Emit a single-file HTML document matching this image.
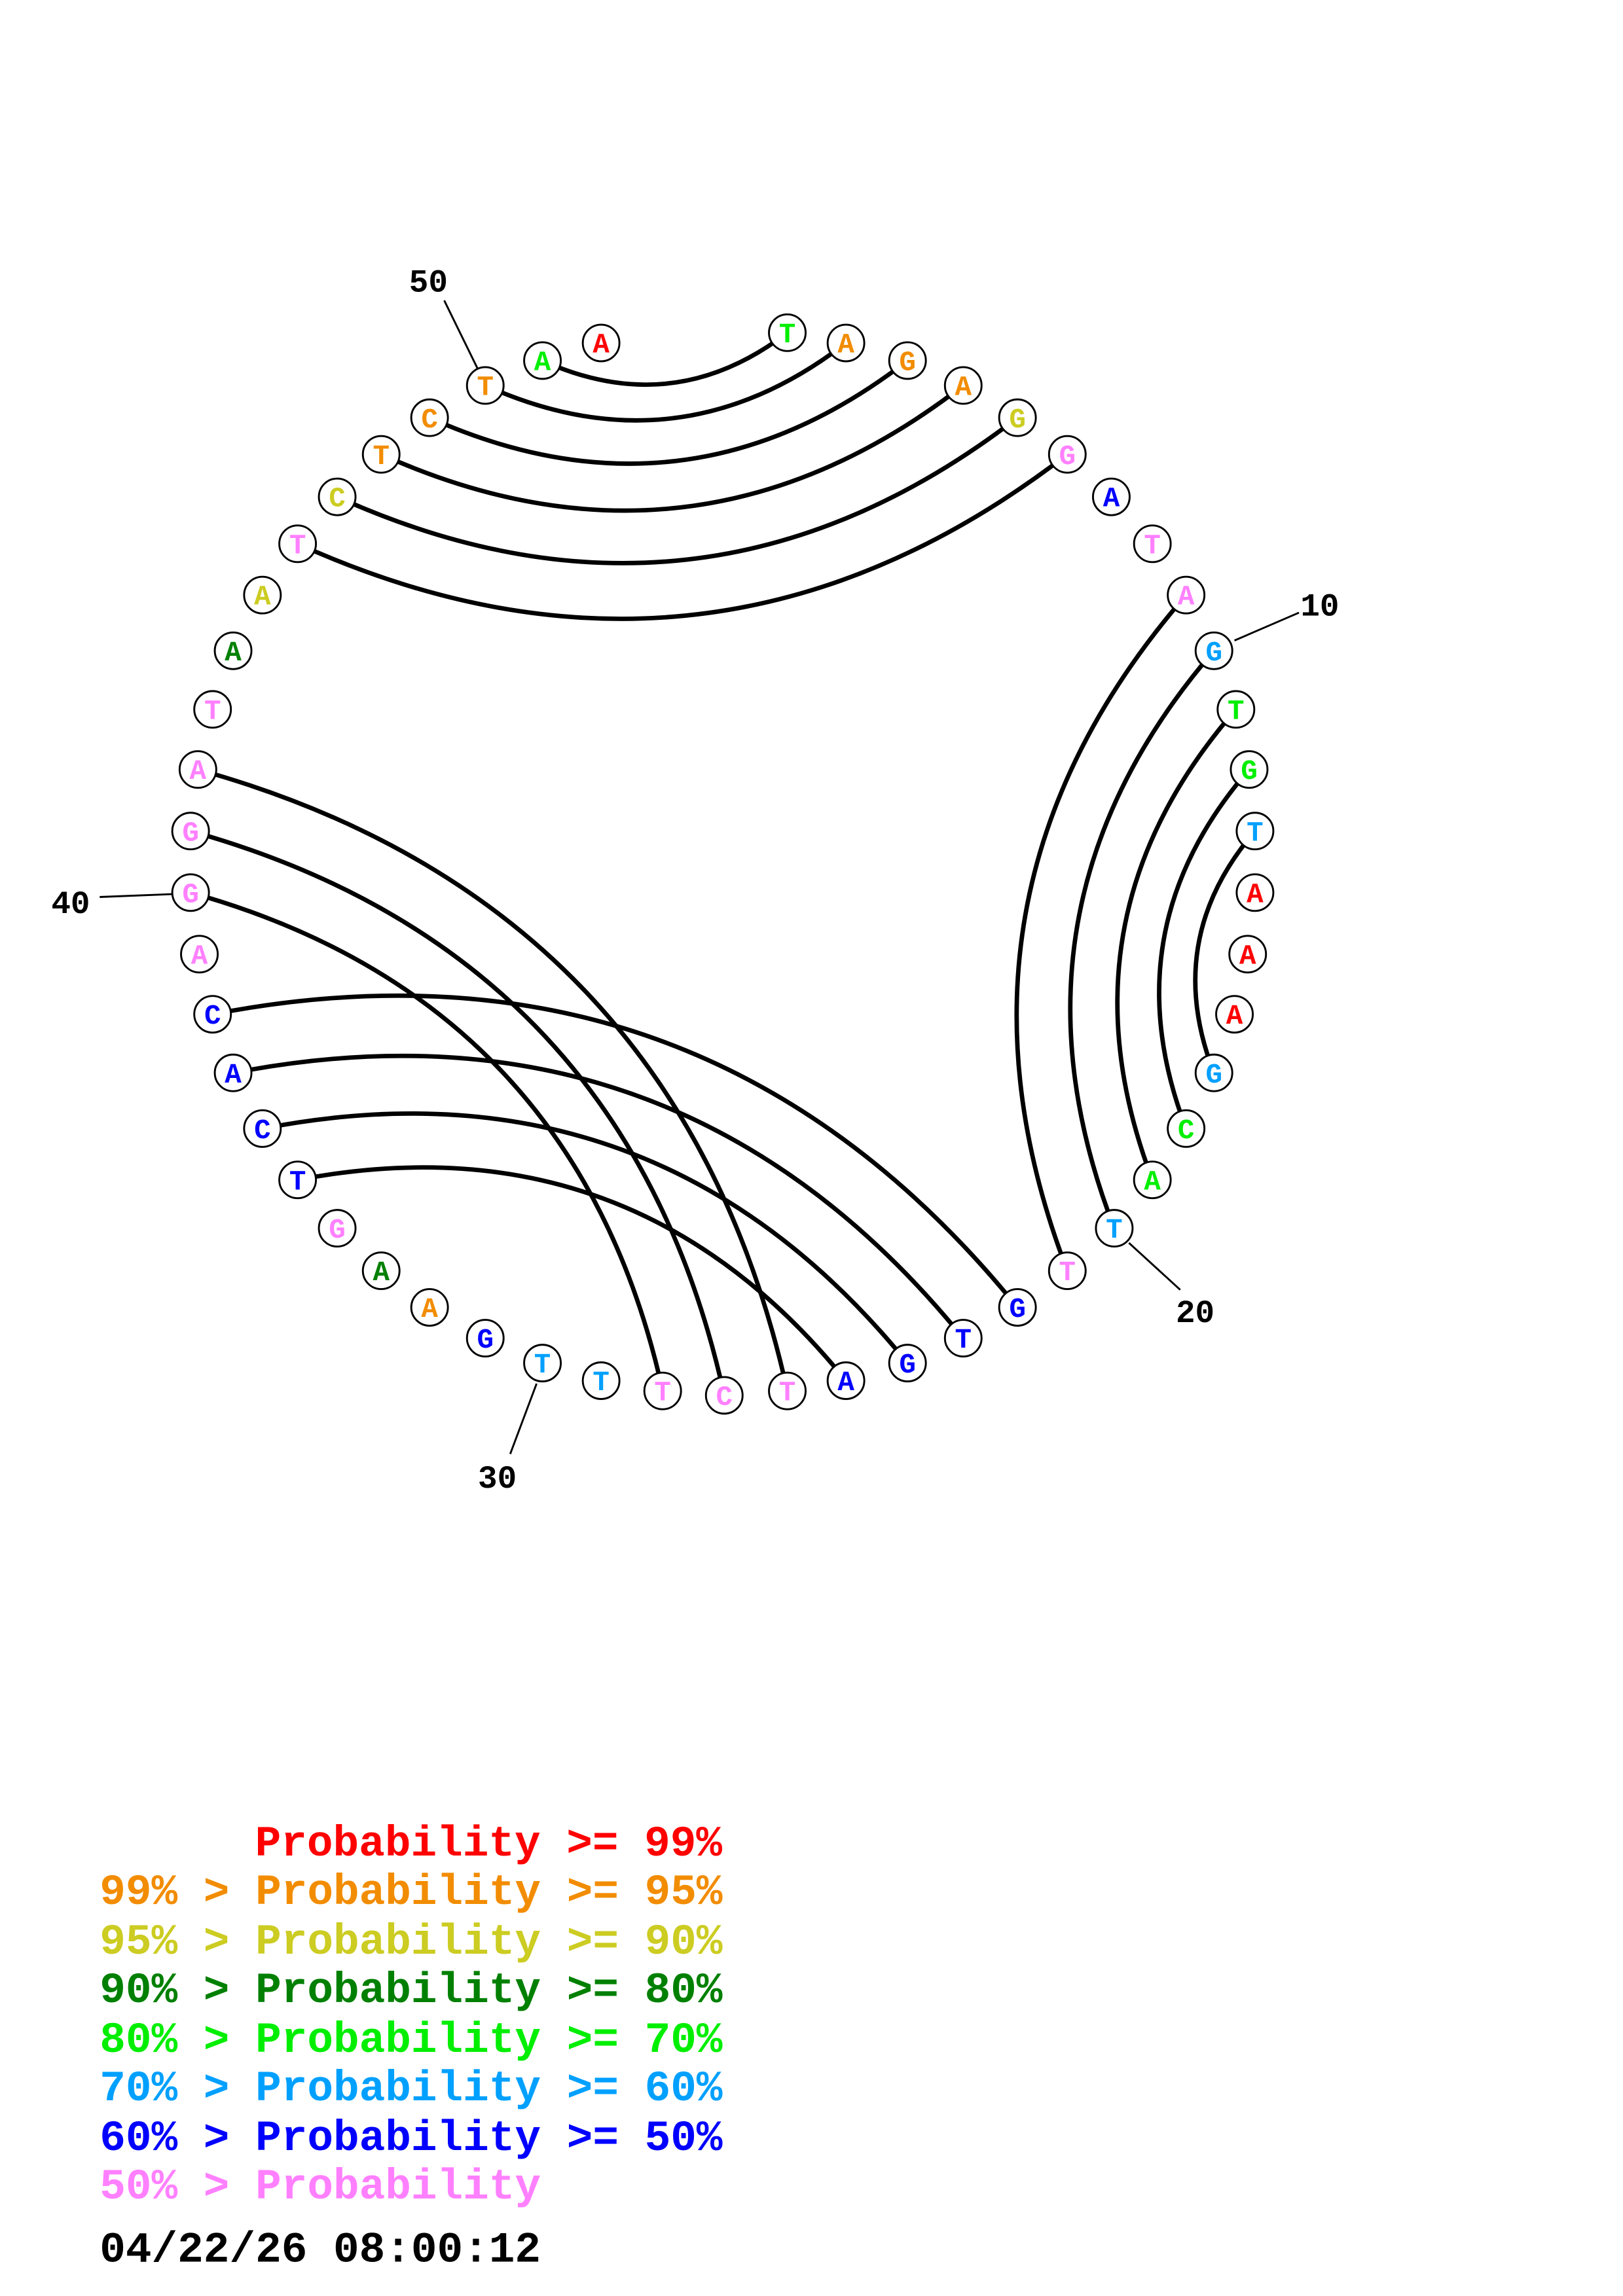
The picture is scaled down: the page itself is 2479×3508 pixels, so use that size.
<!DOCTYPE html>
<html><head><meta charset="utf-8"><style>
html,body{margin:0;padding:0;background:#fff;}
svg{display:block;}
</style></head><body>
<svg id="s" xmlns="http://www.w3.org/2000/svg" width="2479" height="3508" viewBox="0 0 1107 1566.5">
<rect width="1107" height="1566.5" fill="#fff"/>
<g id="arcs" fill="none" stroke="#000" stroke-width="3"></g>
<g id="ticks" stroke="#000" stroke-width="1.3">
<line x1="303" y1="205" x2="326" y2="252"/>
<line x1="842" y1="437" x2="886" y2="418"/>
<line x1="770" y1="848" x2="805" y2="880"/>
<line x1="366" y1="944" x2="348" y2="992"/>
<line x1="118" y1="610" x2="68" y2="612"/>
</g>
<g font-family="Liberation Mono, monospace" font-weight="bold" font-size="22" fill="#000">
<text x="279" y="199">50</text>
<text x="887" y="420">10</text>
<text x="802" y="902">20</text>
<text x="326" y="1015">30</text>
<text x="35" y="623">40</text>
</g>
<g id="nodes"></g>
<g font-family="Liberation Mono, monospace" font-weight="bold" font-size="29.5" xml:space="preserve">
<text x="174" y="1266" fill="#ff0000">Probability &gt;= 99%</text>
<text x="68" y="1299" fill="#f28c00">99% &gt; Probability &gt;= 95%</text>
<text x="68" y="1333" fill="#cccc22">95% &gt; Probability &gt;= 90%</text>
<text x="68" y="1366" fill="#008000">90% &gt; Probability &gt;= 80%</text>
<text x="68" y="1400" fill="#00ee00">80% &gt; Probability &gt;= 70%</text>
<text x="68" y="1433" fill="#00a0ff">70% &gt; Probability &gt;= 60%</text>
<text x="68" y="1467" fill="#0000ff">60% &gt; Probability &gt;= 50%</text>
<text x="68" y="1500" fill="#ff80ff">50% &gt; Probability</text>
<text x="68" y="1543" fill="#000">04/22/26 08:00:12</text>
</g>
</svg>
<script>
var C={r:"#ff0000",o:"#f28c00",y:"#cccc22",d:"#008000",g:"#00ee00",c:"#00a0ff",b:"#0000ff",p:"#ff80ff"};
var N=[
["T",537,227,"g"],["A",577,234,"o"],["G",619,246,"o"],["A",657,263,"o"],["G",694,285,"y"],["G",728,310,"p"],["A",758,339,"b"],["T",786,371,"p"],["A",809,406,"p"],["G",828,444,"c"],
["T",843,484,"g"],["G",852,525,"g"],["T",856,567,"c"],["A",856,609,"r"],["A",851,651,"r"],["A",842,692,"r"],["G",828,732,"c"],["C",809,770,"g"],["A",786,805,"g"],["T",760,838,"c"],
["T",728,867,"p"],["G",694,892,"b"],["T",657,913,"b"],["G",619,930,"b"],["A",577,942,"b"],["T",537,949,"p"],["C",494,952,"p"],["T",452,949,"p"],["T",410,942,"c"],["T",370,930,"c"],
["G",331,913,"b"],["A",293,892,"o"],["A",260,867,"d"],["G",230,838,"p"],["T",203,805,"b"],["C",179,770,"b"],["A",159,732,"b"],["C",145,692,"b"],["A",136,651,"p"],["G",130,609,"p"],
["G",130,567,"p"],["A",135,525,"p"],["T",145,484,"p"],["A",159,444,"d"],["A",179,406,"y"],["T",203,371,"p"],["C",230,339,"y"],["T",260,310,"o"],["C",293,285,"o"],["T",331,263,"o"],
["A",370,246,"g"],["A",410,234,"r"]];
var P=[[1,51],[2,50],[3,49],[4,48],[5,47],[6,46],[9,21],[10,20],[11,19],[12,18],[13,17],[22,38],[23,37],[24,36],[25,35],[26,42],[27,41],[28,40]];
var O=[493,590],ns="http://www.w3.org/2000/svg";
var ag=document.getElementById("arcs"),ng=document.getElementById("nodes");
P.forEach(function(p){
 var a=N[p[0]-1],b=N[p[1]-1];
 var dx=b[1]-a[1],dy=b[2]-a[2],c=Math.sqrt(dx*dx+dy*dy);
 var mx=(a[1]+b[1])/2,my=(a[2]+b[2])/2;
 var nx=-dy/c,ny=dx/c;
 if(nx*(O[0]-mx)+ny*(O[1]-my)<0){nx=-nx;ny=-ny;}
 var h=0.15*c;
 var e=document.createElementNS(ns,"path");
 e.setAttribute("d","M"+a[1]+" "+a[2]+" Q"+(mx+2*h*nx)+" "+(my+2*h*ny)+" "+b[1]+" "+b[2]);
 ag.appendChild(e);
});
N.forEach(function(n){
 var ci=document.createElementNS(ns,"circle");
 ci.setAttribute("cx",n[1]);ci.setAttribute("cy",n[2]);ci.setAttribute("r",12.5);
 ci.setAttribute("fill","#fff");ci.setAttribute("stroke","#000");ci.setAttribute("stroke-width","1.3");
 ng.appendChild(ci);
 var t=document.createElementNS(ns,"text");
 t.setAttribute("x",n[1]);t.setAttribute("y",n[2]+6.5);t.setAttribute("text-anchor","middle");
 t.setAttribute("font-family","Liberation Mono, monospace");t.setAttribute("font-weight","bold");
 t.setAttribute("font-size","19");t.setAttribute("fill",C[n[3]]);t.textContent=n[0];
 ng.appendChild(t);
});
</script>
</body></html>
